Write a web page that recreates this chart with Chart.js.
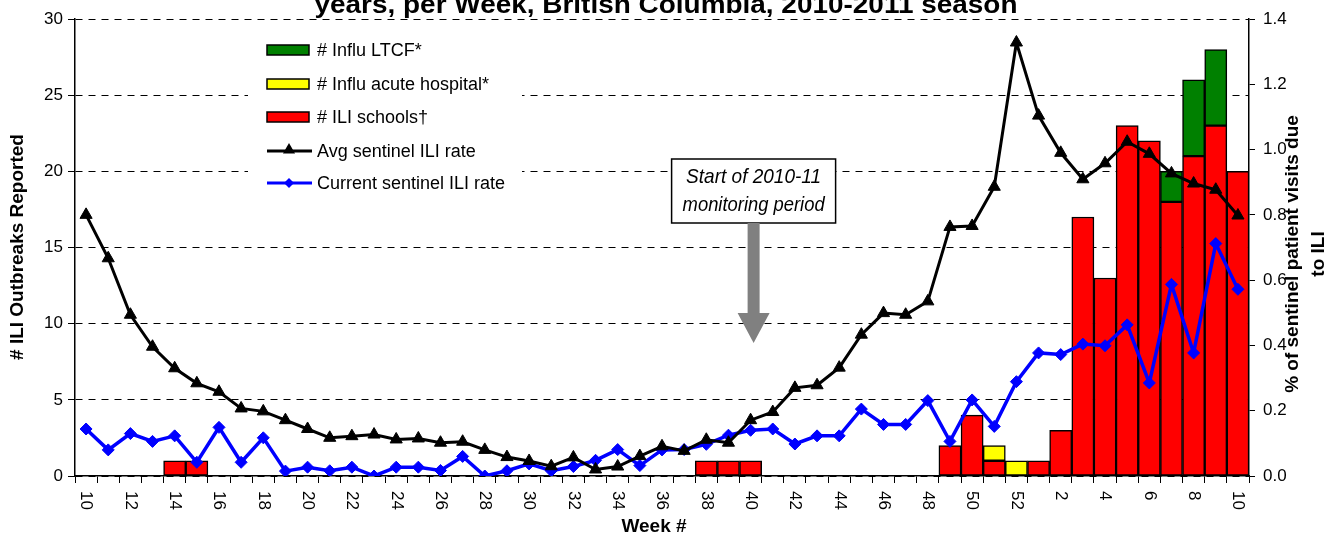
<!DOCTYPE html>
<html>
<head>
<meta charset="utf-8">
<title>ILI outbreaks per week, BC 2010-2011</title>
<script src="https://cdn.jsdelivr.net/npm/chart.js@4.4.0/dist/chart.umd.min.js"></script>
<style>
  html, body { margin: 0; padding: 0; background: #fff; }
  #wrap { width: 1335px; height: 538px; position: relative; }
</style>
</head>
<body>
<div id="wrap"><canvas id="chart"></canvas></div>
<script>
// Weekly ILI outbreaks + sentinel ILI rates, BC 2010-2011
// =============================================================

const weeks = [
  10, 11, 12, 13, 14, 15, 16, 17, 18, 19, 20, 21, 22, 23, 24, 25, 26, 27, 28, 29,
  30, 31, 32, 33, 34, 35, 36, 37, 38, 39, 40, 41, 42, 43, 44, 45, 46, 47, 48, 49,
  50, 51, 52, 1, 2, 3, 4, 5, 6, 7, 8, 9, 10
]

// outbreak counts (left axis)
const iliSchools = [
  null, null, null, null, 1, 1, null, null, null, null, null, null, null, null, null, null, null, null, null, null,
  null, null, null, null, null, null, null, null, 1, 1, 1, null, null, null, null, null, null, null, null, 2,
  4, 1, null, 1, 3, 17, 13, 23, 22, 18, 21, 23, 20
]
const influHospital = [
  null, null, null, null, null, null, null, null, null, null, null, null, null, null, null, null, null, null, null, null,
  null, null, null, null, null, null, null, null, null, null, null, null, null, null, null, null, null, null, null, null,
  null, 1, 1, null, null, null, null, null, null, null, null, null, null
]
const influLtcf = [
  null, null, null, null, null, null, null, null, null, null, null, null, null, null, null, null, null, null, null, null,
  null, null, null, null, null, null, null, null, null, null, null, null, null, null, null, null, null, null, null, null,
  null, null, null, null, null, null, null, null, null, 2, 5, 5, null
]

// % of sentinel patient visits due to ILI (right axis)
const avgSentinel = [
  0.80, 0.667, 0.494, 0.396, 0.33, 0.284, 0.258, 0.207, 0.198, 0.171, 0.144, 0.117, 0.122, 0.127, 0.112, 0.115, 0.102, 0.105, 0.08, 0.058,
  0.046, 0.03, 0.057, 0.02, 0.029, 0.061, 0.091, 0.077, 0.111, 0.102, 0.171, 0.196, 0.27, 0.278, 0.332, 0.433, 0.499, 0.494, 0.535, 0.763,
  0.766, 0.886, 1.328, 1.104, 0.99, 0.909, 0.958, 1.024, 0.987, 0.927, 0.896, 0.877, 0.798
]
const currentSentinel = [
  0.144, 0.08, 0.13, 0.106, 0.123, 0.042, 0.149, 0.042, 0.117, 0.015, 0.027, 0.016, 0.027, 0.0, 0.027, 0.027, 0.017, 0.06, 0.0, 0.016,
  0.037, 0.016, 0.029, 0.048, 0.081, 0.032, 0.08, 0.081, 0.097, 0.125, 0.14, 0.144, 0.098, 0.123, 0.123, 0.205, 0.158, 0.158, 0.231, 0.106,
  0.233, 0.152, 0.289, 0.377, 0.372, 0.404, 0.399, 0.463, 0.285, 0.587, 0.377, 0.712, 0.572
]

const outbreakTicks = { min: 0, max: 30, step: 5 }
const rateTicks = { min: 0, max: 1.4, step: 0.2 }

const FONT = "'Liberation Sans', Arial, Helvetica, sans-serif"

// draws text squeezed/stretched to a given width (Excel-ish rendering)
function fitText (ctx, text, x, y, width) {
  const w = ctx.measureText(text).width
  ctx.save()
  ctx.translate(x, y)
  ctx.scale(width / w, 1)
  ctx.textAlign = 'center'
  ctx.fillText(text, 0, 0)
  ctx.restore()
}

function triangle (ctx, x, y, r) {
  ctx.beginPath()
  ctx.moveTo(x, y - r)
  ctx.lineTo(x + r * 0.866, y + r * 0.5)
  ctx.lineTo(x - r * 0.866, y + r * 0.5)
  ctx.closePath()
  ctx.fill()
}

function diamond (ctx, x, y, r) {
  ctx.beginPath()
  ctx.moveTo(x, y - r)
  ctx.lineTo(x + r, y)
  ctx.lineTo(x, y + r)
  ctx.lineTo(x - r, y)
  ctx.closePath()
  ctx.fill()
}

// legend box sitting inside the plot, over the gridlines
const insideLegend = {
  id: 'insideLegend',
  beforeDatasetsDraw (chart) {
    const ctx = chart.ctx
    const ds = chart.data.datasets
    const order = [2, 1, 0, 3, 4]
    const rows = [50, 84, 117, 151, 183]

    ctx.save()
    ctx.fillStyle = '#fff'
    ctx.fillRect(248, 30, 274, 170)

    order.forEach((di, k) => {
      const d = ds[di]
      const y = rows[k]
      if (d.type === 'line') {
        ctx.strokeStyle = d.borderColor
        ctx.lineWidth = 3
        ctx.beginPath()
        ctx.moveTo(267, y)
        ctx.lineTo(312, y)
        ctx.stroke()
        ctx.fillStyle = d.borderColor
        if (d.pointStyle === 'triangle') triangle(ctx, 289, y - 1, 7)
        else diamond(ctx, 289, y, 5)
      } else {
        ctx.fillStyle = d.backgroundColor
        ctx.fillRect(267, y - 5, 42, 10)
        ctx.strokeStyle = '#000'
        ctx.lineWidth = 1.5
        ctx.strokeRect(267, y - 5, 42, 10)
      }
      ctx.fillStyle = '#000'
      ctx.font = '18px ' + FONT
      ctx.textAlign = 'left'
      ctx.textBaseline = 'middle'
      ctx.fillText(d.label, 317, y + 1)
    })
    ctx.restore()
  }
}

// titles, rotated week labels, and the "start of monitoring" callout
const decorations = {
  id: 'decorations',
  afterDraw (chart) {
    const ctx = chart.ctx
    const xs = chart.scales.x
    const area = chart.chartArea

    ctx.save()
    ctx.fillStyle = '#000'

    // chart title (first line is off the top of the picture)
    ctx.font = 'bold 26px ' + FONT
    ctx.textBaseline = 'alphabetic'
    fitText(ctx, 'years, per Week, British Columbia, 2010-2011 season', 666, 13, 703)

    // week labels, every other week, rotated clockwise
    ctx.font = '17px ' + FONT
    ctx.textAlign = 'left'
    ctx.textBaseline = 'middle'
    weeks.forEach((w, i) => {
      if (i % 2 !== 0) return
      ctx.save()
      ctx.translate(xs.getPixelForTick(i), area.bottom + 15)
      ctx.rotate(Math.PI / 2)
      ctx.fillText(String(w), 0, 0)
      ctx.restore()
    })

    // axis titles
    ctx.font = 'bold 19px ' + FONT
    ctx.textAlign = 'center'
    ctx.textBaseline = 'middle'
    ctx.fillText('Week #', 654, 527)

    const rotTitle = (text, x, y) => {
      ctx.save()
      ctx.translate(x, y)
      ctx.rotate(-Math.PI / 2)
      ctx.fillText(text, 0, 0)
      ctx.restore()
    }
    rotTitle('# ILI Outbreaks Reported', 18, 247)
    rotTitle('% of sentinel patient visits due', 1293, 254)
    rotTitle('to ILI', 1319, 254)

    // callout box + arrow pointing at week 40
    const cx = xs.getPixelForValue(weeks.indexOf(40)) + 3
    const boxL = cx - 82
    const boxT = 159
    ctx.fillStyle = '#fff'
    ctx.fillRect(boxL, boxT, 164, 64)
    ctx.strokeStyle = '#000'
    ctx.lineWidth = 1.5
    ctx.strokeRect(boxL, boxT, 164, 64)

    ctx.fillStyle = '#000'
    ctx.font = 'italic 21px ' + FONT
    fitText(ctx, 'Start of 2010-11', cx, boxT + 18, 135)
    fitText(ctx, 'monitoring period', cx, boxT + 46, 142)

    ctx.fillStyle = '#808080'
    ctx.fillRect(cx - 6, boxT + 64, 12, 92)
    ctx.beginPath()
    ctx.moveTo(cx - 16, boxT + 154)
    ctx.lineTo(cx + 16, boxT + 154)
    ctx.lineTo(cx, boxT + 184)
    ctx.closePath()
    ctx.fill()

    ctx.restore()
  }
}

const barStyle = {
  borderColor: '#000',
  borderWidth: 1.5,
  borderSkipped: false,
  categoryPercentage: 1.0,
  barPercentage: 1.0,
  yAxisID: 'y',
  order: 2
}

const data = {
  labels: weeks.map(String),
  datasets: [{
    ...barStyle,
    type: 'bar',
    label: '# ILI schools\u2020',
    backgroundColor: '#ff0000',
    data: iliSchools
  }, {
    ...barStyle,
    type: 'bar',
    label: '# Influ acute hospital*',
    backgroundColor: '#ffff00',
    data: influHospital
  }, {
    ...barStyle,
    type: 'bar',
    label: '# Influ LTCF*',
    backgroundColor: '#008000',
    data: influLtcf
  }, {
    type: 'line',
    label: 'Avg sentinel ILI rate',
    borderColor: '#000',
    backgroundColor: '#000',
    borderWidth: 3,
    pointStyle: 'triangle',
    pointRadius: 7,
    pointBorderWidth: 1,
    pointBackgroundColor: '#000',
    pointBorderColor: '#000',
    tension: 0,
    yAxisID: 'y1',
    order: 0,
    data: avgSentinel
  }, {
    type: 'line',
    label: 'Current sentinel ILI rate',
    borderColor: '#0000ff',
    backgroundColor: '#0000ff',
    borderWidth: 3.5,
    pointStyle: 'rectRot',
    pointRadius: 6,
    pointBorderWidth: 1,
    pointBackgroundColor: '#0000ff',
    pointBorderColor: '#0000ff',
    tension: 0,
    yAxisID: 'y1',
    order: 1,
    data: currentSentinel
  }]
}

const options = {
  responsive: true,
  maintainAspectRatio: false,
  animation: false,
  layout: { padding: { top: 19, left: 0, right: 0, bottom: 0 } },
  plugins: {
    legend: { display: false },
    title: { display: false },
    tooltip: { enabled: false }
  },
  scales: {
    x: {
      stacked: true,
      offset: true,
      grid: { display: true, drawOnChartArea: false, drawTicks: true, tickLength: 7, color: '#000', offset: true },
      border: { display: true, color: '#000', width: 1.5 },
      ticks: { display: false },
      afterFit (s) { s.height = 62 }
    },
    y: {
      position: 'left',
      stacked: true,
      min: outbreakTicks.min,
      max: outbreakTicks.max,
      ticks: {
        stepSize: outbreakTicks.step,
        color: '#000',
        padding: 5,
        font: { size: 17, family: FONT }
      },
      grid: { color: '#000', lineWidth: 1, tickLength: 7, tickColor: '#000' },
      border: { display: true, color: '#000', width: 1.5, dash: [7, 6] },
      afterFit (s) { s.width = 75 }
    },
    y1: {
      position: 'right',
      min: rateTicks.min,
      max: rateTicks.max,
      ticks: {
        stepSize: rateTicks.step,
        color: '#000',
        padding: 8,
        font: { size: 17, family: FONT },
        callback: v => Number(v).toFixed(1)
      },
      grid: { drawOnChartArea: false, tickLength: 6, color: '#000' },
      border: { display: true, color: '#000', width: 1.5 },
      afterFit (s) { s.width = 86 }
    }
  }
}

// init chart
const chart = new Chart(document.getElementById('chart'), {
  type: 'bar',
  data: data,
  options: options,
  plugins: [insideLegend, decorations]
})
</script>
</body>
</html>
